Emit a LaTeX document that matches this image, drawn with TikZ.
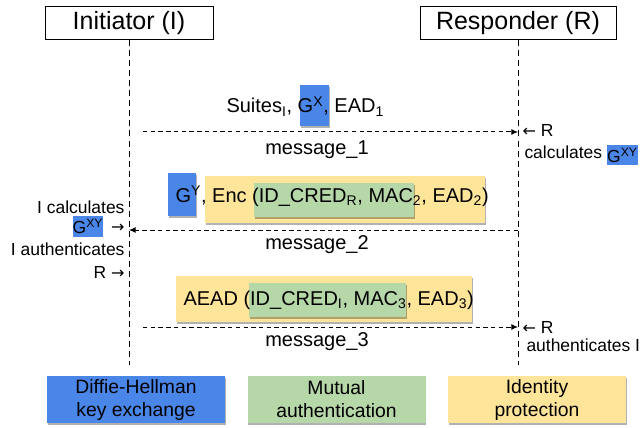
\documentclass[tikz,border=0pt]{standalone}
\usepackage{fontspec}
\setmainfont{Liberation Sans}
\newfontfamily\arrowfont{DejaVu Sans}
\usetikzlibrary{arrows.meta,shadows,positioning}

\definecolor{dhblue}{RGB}{74,134,232}
\definecolor{mutgreen}{RGB}{182,215,168}
\definecolor{idyellow}{RGB}{255,229,153}

\newcommand{\toarr}{{\arrowfont\fontsize{12}{15}\selectfont →}}
\newcommand{\fromarr}{{\arrowfont\fontsize{12}{15}\selectfont ←}}

\tikzset{every picture/.style={line width=0.75pt},
  actor/.style={draw, fill=white, minimum width=126pt, minimum height=24.75pt, inner sep=0, font=\fontsize{18.75}{22}\selectfont},
  lifeline/.style={dash pattern=on 4.5pt off 3pt},
  msg/.style={dash pattern=on 3.3pt off 2.5pt, -{Latex[length=5pt,width=4.5pt]}},
  msgtext/.style={inner sep=0, font=\fontsize{15}{18}\selectfont},
  sidetext/.style={inner sep=0, font=\fontsize{13.1}{15}\selectfont},
  boxshadow/.style={drop shadow={shadow xshift=0.5pt, shadow yshift=-1.5pt, opacity=0.3, fill=black}},
  legend/.style={boxshadow, align=center, minimum width=133.5pt, minimum height=35.25pt, inner sep=0, font=\fontsize{14.5}{17.25}\selectfont},
}

\begin{document}
\begin{tikzpicture}[x=0.75pt,y=0.75pt,yscale=-1,xscale=1]
	\path (0,0) rectangle (643,428); %keep the page size

	% Actors
	\node [actor] (init) at (129,23.5) {Initiator (I)};
	\node [actor, minimum width=147pt] (resp) at (518,23.5) {Responder (R)};
	\coordinate (initEnd) at (129,365);
	\coordinate (respEnd) at (518,365);
	%Lifelines
	\draw [lifeline] (init) -- (initEnd);
	\draw [lifeline] (resp) -- (respEnd);

	%Message 1
	\fill [dhblue, boxshadow] (300,85) rectangle (329,126);
	\node [msgtext, anchor=base west] (m1text) at (226,113) {Suites\textsubscript{I}, G\textsuperscript{X}, EAD\textsubscript{1}};
	\coordinate (m1from) at (143,132);
	\draw [msg] (m1from) -- (m1from -| respEnd);
	\node [msgtext] (m1) at (317,150) {message\_1};

	%Message 2
	\fill [idyellow, boxshadow] (205,176) rectangle (485,223);
	\fill [mutgreen, boxshadow] (254,183) rectangle (414,217);
	\fill [dhblue, boxshadow] (168,173) rectangle (196,216);
	\node [msgtext, anchor=base west] (m2text) at (175,202) {G\textsuperscript{Y}, Enc (ID\_CRED\textsubscript{R}, MAC\textsubscript{2}, EAD\textsubscript{2})};
	\coordinate (m2from) at (518,230);
	\draw [msg] (m2from) -- (m2from -| initEnd);
	\node [msgtext] (m2) at (317,245) {message\_2};

	%Message 3
	\fill [idyellow, boxshadow] (176,276) rectangle (472,322);
	\fill [mutgreen, boxshadow] (249,283) rectangle (406,317);
	\node [msgtext, anchor=base west] (m3text) at (183,305) {AEAD (ID\_CRED\textsubscript{I}, MAC\textsubscript{3}, EAD\textsubscript{3})};
	\coordinate (m3from) at (143,327);
	\draw [msg] (m3from) -- (m3from -| respEnd);
	\node [msgtext] (m3) at (317,342) {message\_3};

	% Initiator side
	\node [sidetext, anchor=east] (iCalc) at (125,207) {I calculates};
	\node [sidetext, fill=dhblue, minimum width=22.5pt, minimum height=15.75pt] (iGxy) at (88,226.5) {G\textsuperscript{XY}};
	\node [sidetext, anchor=east] (iArr1) at (125,228) {\toarr};
	\node [sidetext, anchor=east] (iAuth) at (125,249) {I authenticates};
	\node [sidetext, anchor=east] (iArr2) at (125,272) {R \toarr};

	% Responder side
	\node [sidetext, anchor=west] (rArr1) at (522,130) {\fromarr\ R};
	\node [sidetext, anchor=base west] (rCalc) at (524,158) {calculates};
	\node [sidetext, fill=dhblue, minimum width=21.75pt, minimum height=15pt] (rGxy) at (622.5,155) {G\textsuperscript{XY}};
	\node [sidetext, anchor=west] (rArr2) at (522,327) {\fromarr\ R};
	\node [sidetext, anchor=west] (rAuth) at (526,345) {authenticates I};

	% Legend
	\node [legend, fill=dhblue] (dh) at (136,399.5) {Diffie-Hellman\\key exchange};
	\node [legend, fill=mutgreen] (mutual) at (336.5,399.5) {Mutual\\authentication};
	\node [legend, fill=idyellow] (idprot) at (537,399.5) {Identity\\protection};

\end{tikzpicture}
\end{document}
